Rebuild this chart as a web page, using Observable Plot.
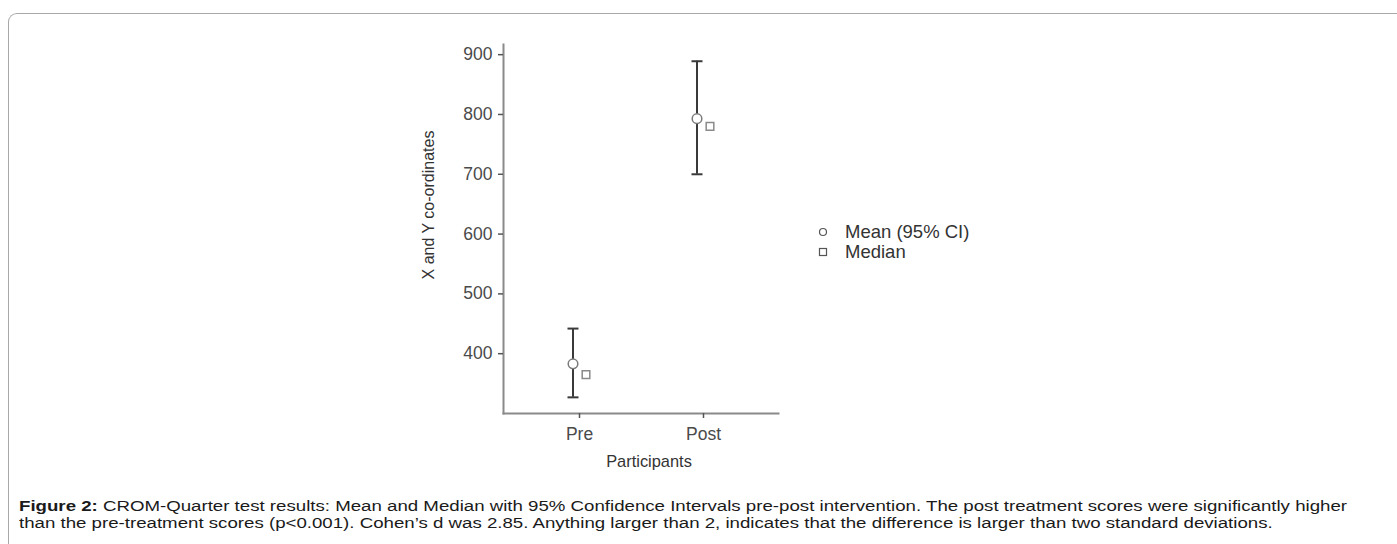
<!DOCTYPE html>
<html>
<head>
<meta charset="utf-8">
<script src="https://cdn.jsdelivr.net/npm/d3@7"></script>
<script src="https://cdn.jsdelivr.net/npm/@observablehq/plot@0.6"></script>
<style>
  html, body { margin: 0; padding: 0; background: #fff; overflow: hidden; }
  #wrap { position: relative; width: 1397px; height: 544px; overflow: hidden; font-family: "Liberation Sans", Arial, sans-serif; }
  #border { position: absolute; left: 8px; top: 13px; width: 1500px; height: 600px; border-top: 1.5px solid #a8a8a8; border-left: 1.5px solid #a8a8a8; border-top-left-radius: 9px; }
  #chart { position: absolute; left: 0; top: 0; }
  #legend { position: absolute; left: 817px; top: 222px; font-size: 18.5px; color: #333; line-height: 20px; }
  #legend div { display: flex; align-items: center; height: 20px; }
  #legend svg { margin-right: 16px; }
  #caption { position: absolute; left: 19px; top: 497px; font-size: 15.5px; line-height: 17px; color: #1a1a1a; white-space: nowrap; transform-origin: 0 0; }
</style>
</head>
<body>
<div id="wrap">
  <div id="border"></div>
  <div id="chart"></div>
  <div id="legend"></div>
  <div id="caption"></div>
</div>
<script>
// ---- data ----
const categories = ["Pre", "Post"];
const meanValues = [383, 793];
const ciLower = [327, 700];
const ciUpper = [442, 889];
const medianValues = [365, 780];
const yTicks = [400, 500, 600, 700, 800, 900];
const legendLabels = ["Mean (95% CI)", "Median"];
const xLabel = "Participants";
const yLabel = "X and Y co-ordinates";
const captionBold = "Figure 2:";
const captionLines = [
  " CROM-Quarter test results: Mean and Median with 95% Confidence Intervals pre-post intervention. The post treatment scores were significantly higher",
  "than the pre-treatment scores (p<0.001). Cohen’s d was 2.85. Anything larger than 2, indicates that the difference is larger than two standard deviations."
];

const rows = categories.map((c, i) => ({cat: c, mean: meanValues[i], lo: ciLower[i], hi: ciUpper[i], median: medianValues[i]}));

// horizontal-line symbol for error-bar caps
const capSymbol = {
  draw(ctx, size) {
    const w = Math.sqrt(size / Math.PI);
    ctx.moveTo(-w, 0);
    ctx.lineTo(w, 0);
  }
};

const plot = Plot.plot({
  width: 1397,
  height: 490,
  marginLeft: 503,
  marginRight: 619,
  marginTop: 44,
  marginBottom: 77,
  style: {fontFamily: "Liberation Sans, Arial, sans-serif", background: "transparent"},
  x: {type: "point", domain: categories, padding: 0.6},
  y: {domain: [300, 917]},
  marks: [
    Plot.frame({anchor: "left", stroke: "#8a8a8a", strokeWidth: 2}),
    Plot.frame({anchor: "bottom", stroke: "#8a8a8a", strokeWidth: 2}),
    Plot.axisY({ticks: yTicks, tickSize: 5, tickPadding: 6, label: null, fontSize: 17.5, stroke: "#555", fill: "#4a4a4a", strokeWidth: 1.5}),
    Plot.axisX({tickSize: 5, tickPadding: 9, label: null, fontSize: 17.5, stroke: "#555", fill: "#4a4a4a", strokeWidth: 1.5}),
    Plot.text([yLabel], {frameAnchor: "left", textAnchor: "middle", rotate: -90, dx: -75, dy: -24, fontSize: 16, fill: "#333", fontWeight: 500}),
    Plot.text([xLabel], {frameAnchor: "bottom", dx: 8, dy: 53, fontSize: 16.4, fill: "#333"}),
    Plot.ruleX(rows, {x: "cat", y1: "lo", y2: "hi", dx: -6.5, stroke: "#3a3a3a", strokeWidth: 2}),
    Plot.dot(rows, {x: "cat", y: "lo", dx: -6.5, symbol: capSymbol, r: 5.5, fill: "none", stroke: "#3a3a3a", strokeWidth: 2}),
    Plot.dot(rows, {x: "cat", y: "hi", dx: -6.5, symbol: capSymbol, r: 5.5, fill: "none", stroke: "#3a3a3a", strokeWidth: 2}),
    Plot.dot(rows, {x: "cat", y: "mean", dx: -6.5, symbol: "circle", r: 4.8, fill: "white", stroke: "#7a7a7a", strokeWidth: 1.5}),
    Plot.dot(rows, {x: "cat", y: "median", dx: 6.5, symbol: "square", r: 4.3, fill: "white", stroke: "#8a8a8a", strokeWidth: 1.5})
  ]
});
document.getElementById("chart").appendChild(plot);

// legend
const legend = document.getElementById("legend");
const syms = ["circle", "square"];
legendLabels.forEach((lab, i) => {
  const row = document.createElement("div");
  const s = d3.create("svg").attr("width", 12).attr("height", 12);
  if (syms[i] === "circle") {
    s.append("circle").attr("cx", 6).attr("cy", 6).attr("r", 3.5).attr("fill", "white").attr("stroke", "#555").attr("stroke-width", 1.2);
  } else {
    s.append("rect").attr("x", 2.5).attr("y", 2.5).attr("width", 7).attr("height", 7).attr("fill", "white").attr("stroke", "#555").attr("stroke-width", 1.2);
  }
  row.appendChild(s.node());
  const t = document.createElement("span");
  t.textContent = lab;
  row.appendChild(t);
  legend.appendChild(row);
});

// caption
const cap = document.getElementById("caption");
const b = document.createElement("b");
b.textContent = captionBold;
cap.appendChild(b);
cap.appendChild(document.createTextNode(captionLines[0]));
cap.appendChild(document.createElement("br"));
cap.appendChild(document.createTextNode(captionLines[1]));
// stretch caption horizontally so the first line spans to the reference's right edge
const capWidth = cap.getBoundingClientRect().width;
cap.style.transform = `scaleX(${(1347 - 19) / capWidth})`;
</script>
</body>
</html>
